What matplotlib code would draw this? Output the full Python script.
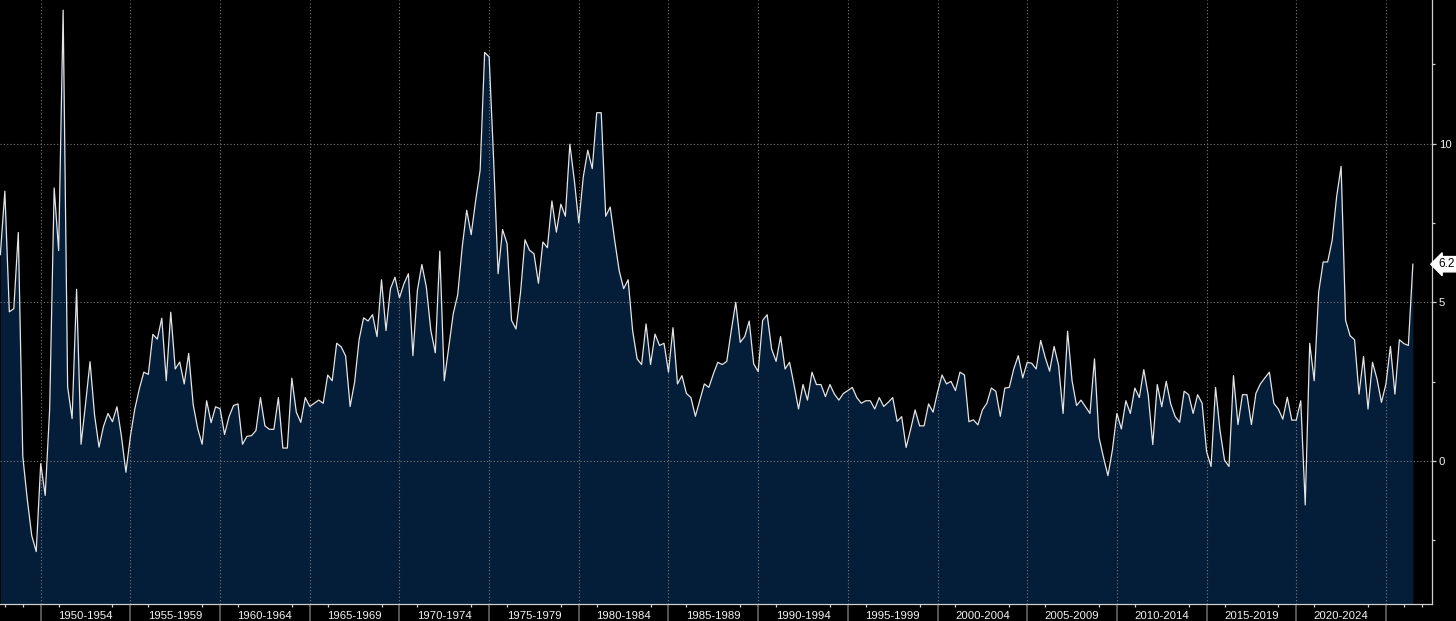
import numpy as np
import pandas as pd
import matplotlib
matplotlib.use("Agg")
import matplotlib.pyplot as plt
from matplotlib.ticker import FixedLocator

# quarterly series, quarter-end positions
quarters = pd.period_range("1947Q3", "2026Q2", freq="Q")
values = [
    6.5, 8.5, 4.7, 4.8, 7.2, 0.15, -1.2, -2.35, -2.85, -0.08,
    -1.08, 1.65, 8.6, 6.63, 14.2, 2.34, 1.34, 5.41, 0.53, 1.8,
    3.13, 1.46, 0.44, 1.09, 1.5, 1.24, 1.71, 0.78, -0.35, 0.78,
    1.65, 2.28, 2.8, 2.73, 3.99, 3.84, 4.5, 2.53, 4.69, 2.9,
    3.12, 2.43, 3.39, 1.78, 1.03, 0.53, 1.9, 1.21, 1.71, 1.65,
    0.84, 1.4, 1.75, 1.8, 0.53, 0.78, 0.8, 0.96, 2.0, 1.11,
    1.0, 1.0, 2.0, 0.41, 0.41, 2.61, 1.54, 1.22, 2.0, 1.72,
    1.82, 1.92, 1.82, 2.71, 2.53, 3.71, 3.6, 3.31, 1.72, 2.48,
    3.82, 4.51, 4.41, 4.61, 3.92, 5.71, 4.11, 5.43, 5.79, 5.14,
    5.58, 5.9, 3.32, 5.37, 6.19, 5.48, 4.11, 3.41, 6.61, 2.53,
    3.59, 4.64, 5.24, 6.74, 7.9, 7.13, 8.21, 9.16, 12.87, 12.73,
    9.5, 5.9, 7.29, 6.85, 4.43, 4.16, 5.3, 6.97, 6.64, 6.53,
    5.6, 6.9, 6.72, 8.19, 7.21, 8.09, 7.71, 9.98, 8.84, 7.5,
    8.95, 9.79, 9.21, 10.97, 10.97, 7.71, 8.0, 6.95, 6.0, 5.43,
    5.71, 4.11, 3.22, 3.04, 4.32, 3.04, 4.0, 3.64, 3.71, 2.8,
    4.2, 2.43, 2.69, 2.13, 2.0, 1.41, 1.92, 2.43, 2.32, 2.74,
    3.11, 3.04, 3.14, 4.11, 5.0, 3.74, 3.92, 4.41, 3.06, 2.82,
    4.43, 4.61, 3.53, 3.14, 3.92, 2.9, 3.11, 2.4, 1.64, 2.41,
    1.92, 2.8, 2.41, 2.41, 2.03, 2.41, 2.11, 1.92, 2.13, 2.22,
    2.32, 2.0, 1.82, 1.9, 1.9, 1.64, 2.0, 1.72, 1.85, 2.0,
    1.25, 1.4, 0.43, 1.0, 1.61, 1.11, 1.11, 1.8, 1.54, 2.17,
    2.71, 2.43, 2.51, 2.22, 2.8, 2.71, 1.24, 1.3, 1.14, 1.61,
    1.82, 2.3, 2.2, 1.41, 2.3, 2.32, 2.9, 3.32, 2.62, 3.11,
    3.08, 2.9, 3.8, 3.27, 2.83, 3.61, 3.01, 1.5, 4.09, 2.53,
    1.75, 1.92, 1.71, 1.5, 3.22, 0.75, 0.12, -0.46, 0.35, 1.5,
    1.01, 1.9, 1.5, 2.3, 2.0, 2.88, 2.06, 0.52, 2.41, 1.71,
    2.51, 1.8, 1.4, 1.22, 2.2, 2.09, 1.5, 2.09, 1.82, 0.3,
    -0.17, 2.32, 0.96, 0.03, -0.17, 2.69, 1.15, 2.09, 2.09, 1.15,
    2.13, 2.43, 2.62, 2.8, 1.82, 1.64, 1.32, 2.01, 1.29, 1.29,
    1.9, -1.38, 3.71, 2.53, 5.32, 6.27, 6.27, 6.95, 8.32, 9.28,
    4.43, 3.95, 3.82, 2.11, 3.29, 1.64, 3.11, 2.59, 1.85, 2.43,
    3.61, 2.11, 3.82, 3.7, 3.64, 6.2,
]
period_starts = [1950, 1955, 1960, 1965, 1970, 1975, 1980, 1985,
                 1990, 1995, 2000, 2005, 2010, 2015, 2020, 2025]
period_labels = ["1950-1954", "1955-1959", "1960-1964", "1965-1969",
                 "1970-1974", "1975-1979", "1980-1984", "1985-1989",
                 "1990-1994", "1995-1999", "2000-2004", "2005-2009",
                 "2010-2014", "2015-2019", "2020-2024"]
last_label = "6.2"

x = quarters.year + quarters.quarter / 4.0
y = np.array(values)

bg = "#000000"
fill_col = "#041d39"
line_col = "#e4e4e4"
grid_col = "#7a7a7a"
text_col = "#f2f2f2"
font = "Liberation Sans"
ymin, ymax = -4.5, 14.52

fig = plt.figure(figsize=(14.56, 6.21), dpi=100, facecolor=bg)
ax = fig.add_axes([0, 0.0274, 0.9833, 0.9726], facecolor=bg)

ax.fill_between(x, y, ymin, color=fill_col, linewidth=0, zorder=1)
ax.plot(x, y, color=line_col, linewidth=0.9, zorder=3)

ax.set_xlim(1947.73, 2027.55)
ax.set_ylim(ymin, ymax)

# x axis: period boundaries as major ticks, labels centred in between
ax.xaxis.set_major_locator(FixedLocator(period_starts))
minor_years = [1948, 1949]
for s in period_starts:
    minor_years += [s + 1, s + 4] if s < 2025 else [s + 1, s + 2]
ax.xaxis.set_minor_locator(FixedLocator(minor_years))
ax.tick_params(axis="x", which="major", length=13, width=1.3,
               color="#5c5c5c", labelbottom=False)
ax.tick_params(axis="x", which="minor", length=2.5, width=0.9,
               color="#d0d0d0")
trans = ax.get_xaxis_transform()
for start, lab in zip(period_starts, period_labels):
    ax.text(start + 2.5, -0.012, lab, transform=trans, ha="center",
            va="top", color=text_col, fontsize=8.2, family=font)

# y axis on the right
ax.yaxis.tick_right()
ax.yaxis.set_major_locator(FixedLocator([0, 5, 10]))
ax.yaxis.set_minor_locator(FixedLocator([-2.5, 2.5, 7.5, 12.5]))
ax.tick_params(axis="y", which="major", length=3, width=0.9,
               color="#d0d0d0", labelcolor=text_col, labelsize=8.2,
               pad=2)
ax.tick_params(axis="y", which="minor", length=2.5, width=0.9,
               color="#d0d0d0")
for lab in ax.get_yticklabels():
    lab.set_family(font)

ax.grid(True, which="major", color=grid_col, linestyle=(0, (1, 2)),
        linewidth=0.8)
ax.set_axisbelow(False)

for side in ["left", "top"]:
    ax.spines[side].set_visible(False)
for side in ["right", "bottom"]:
    ax.spines[side].set_color("#cfcfcf")
    ax.spines[side].set_linewidth(0.9)
    ax.spines[side].set_zorder(4)

# last value tag
ytrans = ax.get_yaxis_transform()
ax.text(1.005, y[-1], last_label, transform=ytrans, ha="left",
        va="center", color="black", fontsize=8.5, family=font,
        bbox=dict(boxstyle="larrow,pad=0.14", fc="white", ec="white"),
        clip_on=False, zorder=6)

fig.savefig("out.png", dpi=100, facecolor=bg)
